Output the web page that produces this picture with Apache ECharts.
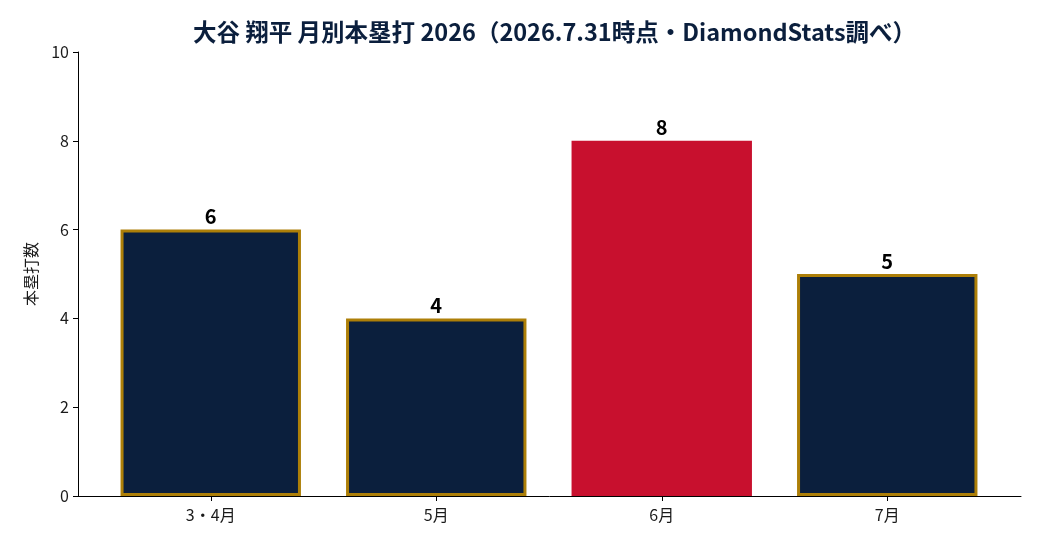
<!DOCTYPE html>
<html><head><meta charset="utf-8">
<script src="https://cdn.jsdelivr.net/npm/echarts@6/dist/echarts.min.js"></script>
<style>html,body{margin:0;padding:0;background:#fff}#c{width:1040px;height:546px}</style>
</head><body><div id="c"></div>
<script>
const categories = ['3・4月', '5月', '6月', '7月'];
const homeRuns = [6, 4, 8, 5];
const highlight = [false, false, true, false];
const yTicks = [0, 2, 4, 6, 8, 10];

const font = '"Noto Sans CJK JP", "Noto Sans", sans-serif';
const navy = '#0b1f3d', gold = '#ad7f08', red = '#c8102e';

const chart = echarts.init(document.getElementById('c'), null, {renderer: 'canvas'});
chart.setOption({
  animation: false,
  backgroundColor: '#fff',
  textStyle: {fontFamily: font},
  title: {
    text: '大谷 翔平 月別本塁打 2026（2026.7.31時点・DiamondStats調べ）',
    left: 549.5, textAlign: 'center', top: 15,
    textStyle: {fontFamily: font, fontSize: 23.5, fontWeight: 'bold', color: '#0b1f3d'}
  },
  grid: [
    {left: 78, right: 19, top: 52, bottom: 50},
    {left: 98, right: 40, top: 52, bottom: 50}
  ],
  xAxis: [
    {gridIndex: 0, type: 'value', min: 0, max: 1, axisLine: {show: true, onZero: false, lineStyle: {color: '#000', width: 1}},
     axisTick: {show: false}, axisLabel: {show: false}, splitLine: {show: false}},
    {gridIndex: 1, type: 'category', data: categories, axisLine: {show: false},
     axisTick: {show: true, alignWithLabel: true, length: 5, lineStyle: {color: '#000'}},
     axisLabel: {fontFamily: font, fontSize: 16, color: '#1a1a1a', margin: 11}, splitLine: {show: false}}
  ],
  yAxis: [
    {gridIndex: 0, type: 'value', min: 0, max: 10, interval: 2,
     axisLine: {show: true, lineStyle: {color: '#000', width: 1}},
     axisTick: {show: true, length: 5, lineStyle: {color: '#000'}},
     axisLabel: {fontFamily: font, fontSize: 16, color: '#1a1a1a', margin: 9,
       formatter: v => yTicks.includes(v) ? String(v) : ''},
     splitLine: {show: false},
     name: '本塁打数', nameLocation: 'middle', nameGap: 39, nameRotate: 90,
     nameTextStyle: {fontFamily: font, fontSize: 16, color: '#1a1a1a'}},
    {gridIndex: 1, type: 'value', min: 0, max: 10, show: false}
  ],
  series: [{
    type: 'bar', xAxisIndex: 1, yAxisIndex: 1, barWidth: '80%',
    data: homeRuns.map((v, i) => ({
      value: v,
      itemStyle: highlight[i]
        ? {color: red, borderWidth: 0}
        : {color: navy, borderColor: gold, borderWidth: 3}
    })),
    label: {show: true, position: 'top', distance: 3, fontFamily: font, fontSize: 20,
      fontWeight: 'bold', color: '#000'}
  }]
});
</script></body></html>
